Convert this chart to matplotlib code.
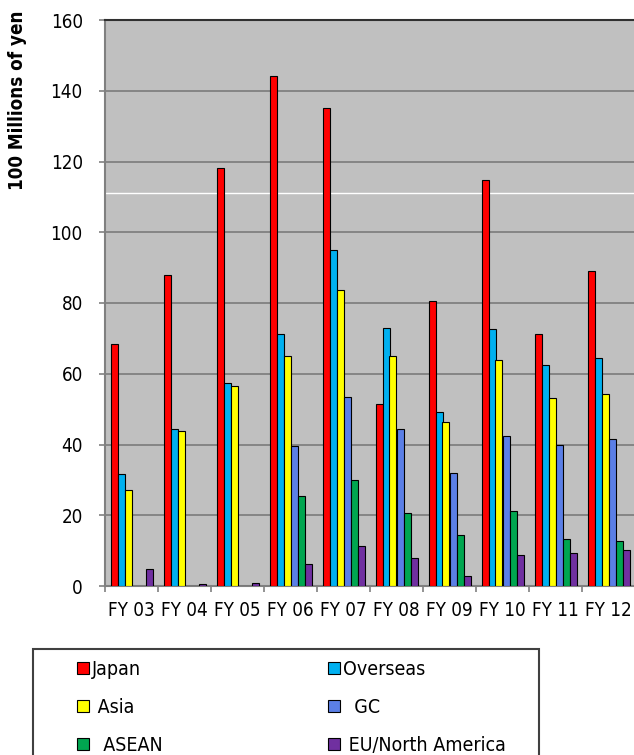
import numpy as np
import matplotlib
matplotlib.use("Agg")
import matplotlib.pyplot as plt
from matplotlib.patches import Rectangle, Patch

plt.rcParams['font.family'] = ['DejaVu Sans']
plt.rcParams['font.stretch'] = 'condensed'

years = ["FY 03", "FY 04", "FY 05", "FY 06", "FY 07", "FY 08", "FY 09", "FY 10", "FY 11", "FY 12"]
japan = [68.3, 87.9, 118.3, 144.2, 135.0, 51.4, 80.5, 114.8, 71.2, 89.0]
overseas = [31.7, 44.3, 57.3, 71.3, 95.0, 73.0, 49.3, 72.6, 62.6, 64.5]
asia = [27.0, 43.7, 56.4, 65.1, 83.6, 65.0, 46.4, 63.8, 53.1, 54.2]
gc = [0, 0, 0, 39.5, 53.5, 44.4, 32.0, 42.4, 39.9, 41.6]
asean = [0, 0, 0, 25.5, 30.0, 20.5, 14.3, 21.3, 13.3, 12.6]
eu_na = [4.7, 0.6, 0.9, 6.1, 11.2, 7.8, 2.8, 8.7, 9.3, 10.2]

series = [japan, overseas, asia, gc, asean, eu_na]
names = ["Japan", "Overseas", " Asia", "  GC", "  ASEAN", " EU/North America"]
colors = ["#FF0000", "#00B0F0", "#FFFF00", "#5B7FE6", "#00A650", "#7030A0"]

fig = plt.figure(figsize=(6.34, 7.55), dpi=100)
ax = fig.add_axes([105/634, 1-586/755, 530/634, 566/755])
ax.set_facecolor("#C0C0C0")

x = np.arange(len(years)) + 0.5
w = 7/53
for k, (vals, c) in enumerate(zip(series, colors)):
    ax.bar(x + (k-2.5)*w, vals, width=w, color=c, edgecolor="black", linewidth=0.8, zorder=3)

ax.set_ylim(0, 160)
ax.set_xlim(0, 10)
ax.set_yticks(range(0, 161, 20))
ax.yaxis.grid(True, color="#808080", linewidth=1.3, zorder=0)
ax.set_axisbelow(True)
ax.axhline(111.1, color="white", linewidth=1, zorder=2)

ax.set_xticks(x)
ax.set_xticklabels(years)
ax.set_xticks(np.arange(0, 11), minor=True)
ax.tick_params(axis="x", which="major", length=0, pad=10.5, labelsize=13.5)
ax.tick_params(axis="x", which="minor", length=4, width=1.2, color="#808080")
ax.tick_params(axis="y", length=4, width=1.2, color="#808080", pad=12, labelsize=13.5)

for s in ["left", "bottom"]:
    ax.spines[s].set_color("#808080")
    ax.spines[s].set_linewidth(1.5)
ax.spines["top"].set_color("#303030")
ax.spines["top"].set_linewidth(1.5)
ax.spines["right"].set_visible(False)

fig.text(18/634, 1-100/755, "100 Millions of yen", rotation=90, ha="center", va="center",
         fontsize=13.5, fontweight="bold")

# legend box
fig.patches.append(Rectangle((33/634, -0.02), (539-33)/634, (0.02 + 1-649/755),
                             transform=fig.transFigure, fill=False, edgecolor="#404040", linewidth=1.5))
handles = [Patch(facecolor=c, edgecolor="black", linewidth=0.8) for c in colors]
col_items = [[0, 2, 4], [1, 3, 5]]
for xpos, idx in zip([77/634, 328/634], col_items):
    lg = fig.legend([handles[i] for i in idx], [names[i] for i in idx], loc="upper left",
                    bbox_to_anchor=(xpos, 1-660/755), bbox_transform=fig.transFigure,
                    frameon=False, borderpad=0, handlelength=0.6, handleheight=0.6,
                    handletextpad=0.15, labelspacing=0.98, fontsize=14, borderaxespad=0)

fig.savefig("out.png", dpi=100)
